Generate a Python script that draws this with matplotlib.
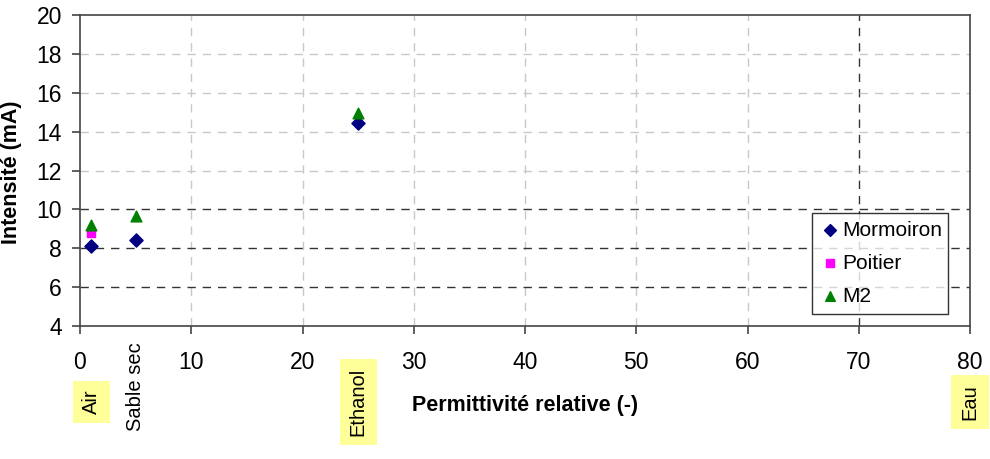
import matplotlib
matplotlib.use("Agg")
import matplotlib.pyplot as plt
from matplotlib.transforms import blended_transform_factory

# Données
eps_mormoiron = [1, 5, 25]
i_mormoiron = [8.1, 8.45, 14.45]
eps_poitier = [1]
i_poitier = [8.8]
eps_m2 = [1, 5, 25]
i_m2 = [9.2, 9.65, 14.95]

# Matériaux repérés sous l'axe des x
mat_noms = ["Air", "Sable sec", "Ethanol", "Eau"]
mat_eps = [1, 5, 25, 80]
mat_surligne = [True, False, True, True]

plt.rcParams["font.family"] = ["Liberation Sans", "DejaVu Sans"]

W, H = 990, 459
fig = plt.figure(figsize=(W / 100, H / 100), dpi=100)
ax = fig.add_axes([80 / W, 1 - 326 / H, 890 / W, 311 / H])

ax.set_xlim(0, 80)
ax.set_ylim(4, 20)
ax.set_xticks(range(0, 81, 10))
ax.set_yticks(range(4, 21, 2))

# Grille : gris clair sauf quelques lignes noires
for x in range(10, 80, 10):
    c = "#333333" if x == 70 else "#c8c8c8"
    ax.axvline(x, color=c, ls=(0, (6, 5)), lw=1, zorder=0)
for y in range(6, 20, 2):
    c = "#333333" if y <= 10 else "#c8c8c8"
    ax.axhline(y, color=c, ls=(0, (6, 5)), lw=1, zorder=0)

ax.scatter(eps_mormoiron, i_mormoiron, marker="D", s=45, color="#000080", label="Mormoiron", zorder=3)
ax.scatter(eps_poitier, i_poitier, marker="s", s=40, color="#ff00ff", label="Poitier", zorder=3)
ax.scatter(eps_m2, i_m2, marker="^", s=60, color="#008000", label="M2", zorder=3)

for sp in ax.spines.values():
    sp.set_color("#444444")
    sp.set_linewidth(1.2)
ax.tick_params(axis="both", direction="out", length=6, width=1.2, color="#444444", labelsize=16.5)
ax.tick_params(axis="x", pad=12)
ax.tick_params(axis="y", pad=7)

ax.set_xlabel("Permittivité relative (-)", fontsize=15.5, fontweight="bold", labelpad=0)
ax.xaxis.set_label_coords(0.5, (326 - 405) / 311, transform=ax.transAxes)
ax.xaxis.label.set_va("center")
ax.set_ylabel("Intensité (mA)", fontsize=15.5, fontweight="bold")
ax.yaxis.set_label_coords(12 / W, 1 - 172 / H, transform=fig.transFigure)
ax.yaxis.label.set_va("center")

trans = blended_transform_factory(ax.transData, fig.transFigure)
for nom, e, hl in zip(mat_noms, mat_eps, mat_surligne):
    if hl:
        box = dict(boxstyle="square,pad=0.45", fc="#ffff99", ec="none")
        ax.text(e, 1 - 402 / H, nom, transform=trans, rotation=90, ha="center", va="center",
                fontsize=14.5, bbox=box, clip_on=False)
    else:
        ax.text(e, 1 - 342 / H, nom, transform=trans, rotation=90, ha="center", va="top",
                fontsize=14.5, clip_on=False)

leg = ax.legend(loc="lower left", bbox_to_anchor=(0.822, 0.039, 0.153, 0.34), mode="expand",
                fontsize=15, frameon=True, fancybox=False, edgecolor="black",
                handletextpad=0.1, borderpad=0.38, labelspacing=0.68, handlelength=1.0,
                borderaxespad=0, markerscale=0.9)
leg.get_frame().set_linewidth(1)

fig.savefig("out.png", dpi=100)
